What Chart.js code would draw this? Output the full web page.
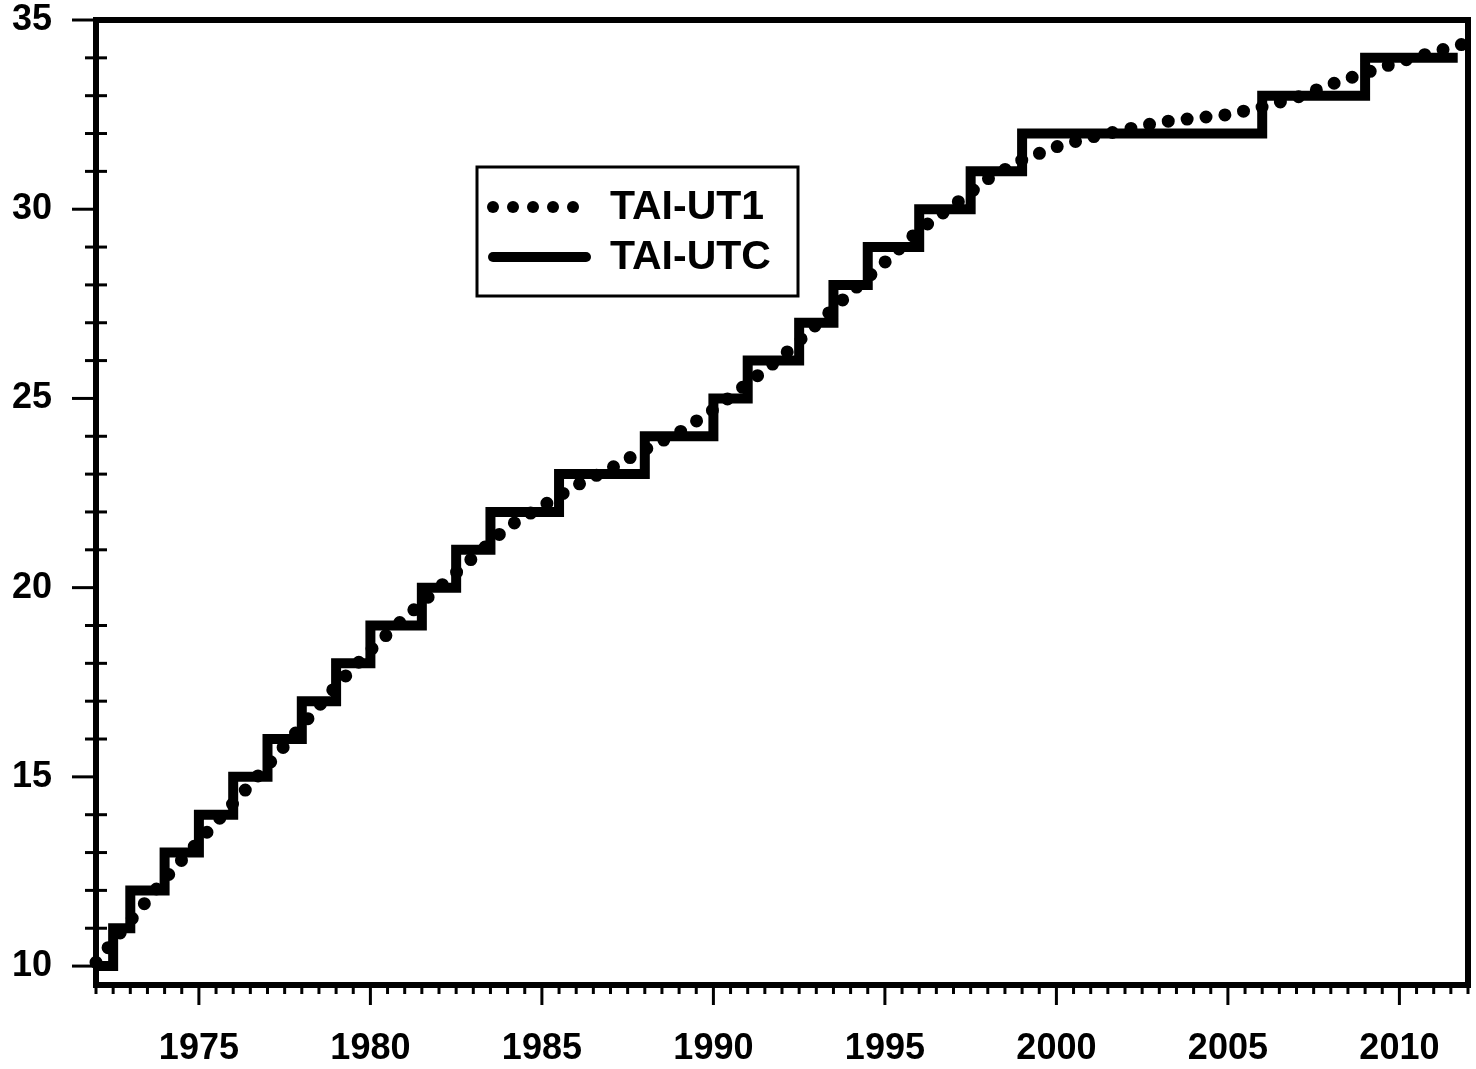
<!DOCTYPE html>
<html>
<head>
<meta charset="utf-8">
<style>
  body { margin: 0; background: #fff; }
  #grafico { display: block; }
</style>
<script src="https://cdn.jsdelivr.net/npm/chart.js@4/dist/chart.umd.min.js"></script>
</head>
<body>
<canvas id="grafico" width="1476" height="1069"></canvas>
<script>
// TAI-UTC: valor novo a partir de cada data de segundo intercalado
var anosUTC = [1972, 1972.5, 1973, 1974, 1975, 1976, 1977, 1978, 1979, 1980, 1981.5, 1982.5, 1983.5,
    1985.5, 1988, 1990, 1991, 1992.5, 1993.5, 1994.5, 1996, 1997.5, 1999, 2006, 2009, 2011.7];
var valoresUTC = [10, 11, 12, 13, 14, 15, 16, 17, 18, 19, 20, 21, 22,
    23, 24, 25, 26, 27, 28, 29, 30, 31, 32, 33, 34, 34];

// TAI-UT1 (1 ponto por ano)
var anosUT1 = [1972, 1973, 1974, 1975, 1976, 1977, 1978, 1979, 1980, 1981, 1982, 1983, 1984, 1985,
    1986, 1987, 1988, 1989, 1990, 1991, 1992, 1993, 1994, 1995, 1996, 1997, 1998, 1999, 2000, 2001,
    2002, 2003, 2004, 2005, 2006, 2007, 2008, 2009, 2010, 2011, 2012];
var valoresUT1 = [10.1, 11.2, 12.3, 13.3, 14.3, 15.3, 16.35, 17.4, 18.35, 19.2, 20.0, 20.8, 21.6, 22.15,
    22.7, 23.15, 23.65, 24.1, 24.7, 25.4, 26.1, 26.95, 27.8, 28.6, 29.45, 30.1, 30.8, 31.3, 31.65, 31.9,
    32.1, 32.3, 32.4, 32.5, 32.7, 32.95, 33.3, 33.6, 33.9, 34.15, 34.4];

var rotulosX = [1975, 1980, 1985, 1990, 1995, 2000, 2005, 2010];
var rotulosY = [10, 15, 20, 25, 30, 35];

const fonteEixo = { family: "'Liberation Sans', Arial, sans-serif", size: 36, weight: 'bold' };

function montarPontos(xs, ys) {
    return xs.map(function (x, i) { return { x: x, y: ys[i] }; });
}

function fixarTamanho(escala, w, h) {
    if (w !== null) escala.width = w;
    if (h !== null) escala.height = h;
    escala.paddingTop = 0;
    escala.paddingBottom = 0;
    escala.paddingLeft = 0;
    escala.paddingRight = 0;
}

// desenha eixos, moldura, marcas e legenda
const pluginMoldura = {
    id: 'moldura',
    afterDraw: function (chart) {
        const ctx = chart.ctx;
        const area = chart.chartArea;
        const escX = chart.scales.x;
        const escY = chart.scales.y;
        ctx.save();
        ctx.strokeStyle = '#000';
        ctx.lineCap = 'butt';

        // marcas do eixo y
        ctx.lineWidth = 3;
        for (let v = 10; v <= 35; v++) {
            const py = escY.getPixelForValue(v);
            ctx.beginPath();
            if (rotulosY.indexOf(v) >= 0) {
                ctx.moveTo(area.left - 24, py);
                ctx.lineTo(area.left, py);
            } else {
                ctx.moveTo(area.left - 11, py);
                ctx.lineTo(area.left + 11, py);
            }
            ctx.stroke();
        }

        // marcas do eixo x
        for (let a = 1972; a <= 2012; a += 0.5) {
            const px = escX.getPixelForValue(a);
            ctx.beginPath();
            ctx.moveTo(px, area.bottom);
            ctx.lineTo(px, area.bottom + (rotulosX.indexOf(a) >= 0 ? 20 : 9));
            ctx.stroke();
        }

        // moldura
        ctx.lineWidth = 6;
        ctx.lineCap = 'square';
        ctx.beginPath();
        ctx.moveTo(area.left, area.top);
        ctx.lineTo(area.right, area.top);
        ctx.lineTo(area.right, area.bottom);
        ctx.lineTo(area.left, area.bottom);
        ctx.closePath();
        ctx.stroke();

        // legenda
        ctx.lineWidth = 3;
        ctx.lineCap = 'butt';
        ctx.strokeRect(477, 167, 321, 129);

        ctx.fillStyle = '#000';
        for (let i = 0; i < 5; i++) {
            ctx.beginPath();
            ctx.arc(493 + i * 20, 207, 6, 0, Math.PI * 2);
            ctx.fill();
        }
        ctx.lineWidth = 10;
        ctx.lineCap = 'round';
        ctx.beginPath();
        ctx.moveTo(493, 257);
        ctx.lineTo(586, 257);
        ctx.stroke();

        ctx.font = "bold 41px 'Liberation Sans', Arial, sans-serif";
        ctx.textBaseline = 'middle';
        ctx.textAlign = 'left';
        ctx.fillText(chart.data.datasets[0].label, 610, 208);
        ctx.fillText(chart.data.datasets[1].label, 610, 258);
        ctx.restore();
    }
};

const dadosGrafico = {
    datasets: [
        {
            label: 'TAI-UT1',
            data: montarPontos(anosUT1, valoresUT1),
            borderColor: '#000',
            borderWidth: 13,
            borderDash: [0, 19],
            borderCapStyle: 'round',
            pointRadius: 0,
            tension: 0,
            fill: false,
            clip: false
        },
        {
            label: 'TAI-UTC',
            data: montarPontos(anosUTC, valoresUTC),
            borderColor: '#000',
            borderWidth: 10,
            borderJoinStyle: 'miter',
            stepped: 'before',
            pointRadius: 0,
            fill: false,
            clip: false
        }
    ]
};

const configGrafico = {
    type: 'line',
    data: dadosGrafico,
    options: {
        responsive: false,
        animation: false,
        layout: { padding: { top: 20, right: 8, left: 0, bottom: 0 } },
        scales: {
            x: {
                type: 'linear',
                min: 1972,
                max: 2012,
                afterBuildTicks: function (escala) {
                    const t = [];
                    for (let a = 1972; a <= 2012; a += 0.5) t.push({ value: a });
                    escala.ticks = t;
                },
                afterFit: function (escala) { fixarTamanho(escala, null, 84); },
                grid: { display: false, drawTicks: false },
                border: { display: false },
                ticks: {
                    autoSkip: false,
                    maxRotation: 0,
                    padding: 42,
                    color: '#000',
                    font: fonteEixo,
                    callback: function (v) { return rotulosX.indexOf(v) >= 0 ? String(v) : ''; }
                }
            },
            y: {
                min: 9.5,
                max: 35,
                afterBuildTicks: function (escala) {
                    const t = [];
                    for (let v = 10; v <= 35; v++) t.push({ value: v });
                    escala.ticks = t;
                },
                afterFit: function (escala) { fixarTamanho(escala, 96, null); },
                grid: { display: false, drawTicks: false },
                border: { display: false },
                ticks: {
                    autoSkip: false,
                    padding: 44,
                    color: '#000',
                    font: fonteEixo,
                    callback: function (v) { return rotulosY.indexOf(v) >= 0 ? String(v) : ''; }
                }
            }
        },
        plugins: {
            legend: { display: false },
            tooltip: { enabled: false }
        }
    },
    plugins: [pluginMoldura]
};

const grafico = new Chart(document.getElementById('grafico'), configGrafico);
</script>
</body>
</html>
